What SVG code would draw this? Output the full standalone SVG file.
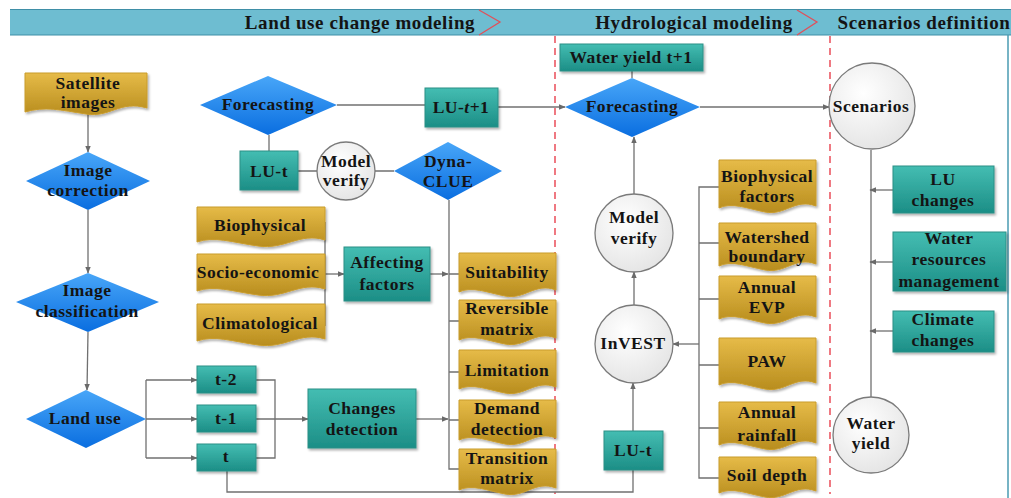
<svg xmlns="http://www.w3.org/2000/svg" width="1011" height="498" viewBox="0 0 1011 498">
<defs>
<linearGradient id="gGold" x1="0" y1="0" x2="0" y2="1"><stop offset="0" stop-color="#e6bb48"/><stop offset="1" stop-color="#b88d1e"/></linearGradient>
<linearGradient id="gTeal" x1="0" y1="0" x2="0" y2="1"><stop offset="0" stop-color="#44bdb2"/><stop offset="1" stop-color="#1c8e86"/></linearGradient>
<linearGradient id="gBlue" x1="0" y1="0" x2="0" y2="1"><stop offset="0" stop-color="#48a6f8"/><stop offset="1" stop-color="#0a6ee0"/></linearGradient>
<radialGradient id="gCirc" cx="0.4" cy="0.35" r="0.75"><stop offset="0" stop-color="#ffffff"/><stop offset="1" stop-color="#e2e2e2"/></radialGradient>
<filter id="sh" x="-10%" y="-10%" width="130%" height="140%"><feDropShadow dx="1.5" dy="2" stdDeviation="1.2" flood-color="#000" flood-opacity="0.3"/></filter>
<marker id="arr" viewBox="0 0 10 10" refX="9" refY="5" markerWidth="7" markerHeight="7" markerUnits="userSpaceOnUse" orient="auto"><path d="M0,1 L10,5 L0,9 Z" fill="#6a6a6a"/></marker>
</defs>
<style>
.t{font-family:"Liberation Serif","Times New Roman",serif;font-weight:bold;font-size:17.5px;letter-spacing:0.5px;fill:#141414;text-anchor:middle}
.h{font-family:"Liberation Serif","Times New Roman",serif;font-weight:bold;font-size:19px;letter-spacing:0.6px;fill:#141414;text-anchor:middle}
.doc{fill:url(#gGold);stroke:#c99c2c;stroke-width:1;filter:url(#sh)}
.box{fill:url(#gTeal);stroke:#2b8f86;stroke-width:1;filter:url(#sh)}
.dia{fill:url(#gBlue);stroke:none}
.cir{fill:url(#gCirc);stroke:#7a7a7a;stroke-width:1.3}
.c{fill:none;stroke:#707070;stroke-width:1.3}
.ca{fill:none;stroke:#707070;stroke-width:1.3;marker-end:url(#arr)}
.dash{stroke:#e8414d;stroke-width:1.4;stroke-dasharray:7,5;fill:none}
.chev{fill:none;stroke:#e0505a;stroke-width:1.3}
</style>
<rect x="0" y="0" width="1011" height="498" fill="#ffffff"/>
<g id="frame">
<rect x="10" y="9" width="1002" height="26" fill="#6ebdd1"/>
<line x1="10" y1="9.5" x2="1011" y2="9.5" stroke="#3f8fa7" stroke-width="1.2"/>
<line x1="10" y1="35" x2="1011" y2="35" stroke="#3f8fa7" stroke-width="1.2"/>
<line x1="1008" y1="35" x2="1008" y2="498" stroke="#4a9bb2" stroke-width="1.5"/>
<text class="h" x="360" y="28.5">Land use change modeling</text>
<polyline class="chev" points="479,10 500,22 479,35"/>
<text class="h" x="694" y="28.5">Hydrological modeling</text>
<polyline class="chev" points="797,10 817,22 797,35"/>
<text class="h" x="924" y="28.5">Scenarios definition</text>
<line class="dash" x1="555" y1="36" x2="555" y2="494"/>
<line class="dash" x1="830" y1="36" x2="830" y2="494"/>
</g>
<g id="connectors">
<path class="ca" d="M88,113 V152"/>
<path class="ca" d="M88,210 V273"/>
<path class="ca" d="M88,332 L87,390"/>
<path class="c" d="M146,380 V458"/>
<path class="ca" d="M146,380 H197"/>
<path class="ca" d="M146,419 H197"/>
<path class="ca" d="M146,458 H197"/>
<path class="c" d="M256,380 H275 V458 H256"/>
<path class="ca" d="M256,419 H308"/>
<path class="ca" d="M416,419 H448"/>
<path class="c" d="M449,200 V469 H459"/>
<path class="c" d="M449,274 H459 M449,321 H459 M449,372 H459 M449,420 H459"/>
<path class="c" d="M325,222 V326"/>
<path class="ca" d="M325,274 H344"/>
<path class="ca" d="M430,274 H448"/>
<path class="c" d="M337,105 H425"/>
<path class="ca" d="M498,107 H565"/>
<path class="c" d="M269,135 V151"/>
<path class="c" d="M298,171 H317 M375,171 H394"/>
<path class="c" d="M632,71 V78"/>
<path class="ca" d="M700,107 H829"/>
<path class="ca" d="M634,195 V137"/>
<path class="ca" d="M634,305 V272"/>
<path class="ca" d="M633,431 V383"/>
<path class="c" d="M227,471 V492 H633 V470"/>
<path class="c" d="M719,187 H699 V478 H719"/>
<path class="c" d="M699,243 H719 M699,299 H719 M699,365 H719 M699,428 H719"/>
<path class="ca" d="M699,344 H673"/>
<path class="c" d="M871,150 V397"/>
<path class="ca" d="M893,190 H870"/>
<path class="ca" d="M893,262 H870"/>
<path class="ca" d="M893,331 H870"/>
</g>
<g id="satellite"><path class="doc" d="M25,73 H147 V108 C120,100 110,118 86,114 C60,110 45,106 25,112 Z"/><text class="t" x="88" y="89">Satellite</text><text class="t" x="88" y="108">images</text></g>
<g id="img-correction"><polygon class="dia" points="88,152 150,181 88,210 26,181"/><text class="t" x="88" y="176">Image</text><text class="t" x="88" y="196">correction</text></g>
<g id="img-classification"><polygon class="dia" points="88,273 159,302 88,332 16,302"/><text class="t" x="87" y="296">Image</text><text class="t" x="87" y="317">classification</text></g>
<g id="land-use"><polygon class="dia" points="86,390 146,419 86,448 26,419"/><text class="t" x="85" y="424">Land use</text></g>
<g id="t-2"><rect class="box" x="197" y="366" width="59" height="27"/><text class="t" x="226" y="385">t-2</text></g>
<g id="t-1"><rect class="box" x="197" y="405" width="59" height="27"/><text class="t" x="226" y="424">t-1</text></g>
<g id="t"><rect class="box" x="197" y="444" width="59" height="27"/><text class="t" x="226" y="462">t</text></g>
<g id="changes-detection"><rect class="box" x="308" y="389" width="108" height="59"/><text class="t" x="362" y="414">Changes</text><text class="t" x="362" y="435">detection</text></g>
<g id="biophysical"><path class="doc" d="M197,207 H325 V240 C300,232 285,250 258,246 C230,242 215,236 197,242 Z"/><text class="t" x="260" y="231">Biophysical</text></g>
<g id="socio-economic"><path class="doc" d="M197,254 H325 V289 C300,281 285,299 258,295 C230,291 215,285 197,291 Z"/><text class="t" x="258" y="278">Socio-economic</text></g>
<g id="climatological"><path class="doc" d="M197,304 H325 V339 C300,331 285,349 258,345 C230,341 215,335 197,341 Z"/><text class="t" x="260" y="329">Climatological</text></g>
<g id="affecting-factors"><rect class="box" x="344" y="247" width="86" height="54"/><text class="t" x="387" y="268">Affecting</text><text class="t" x="387" y="290">factors</text></g>
<g id="suitability"><path class="doc" d="M459,253 H556 V290 C535,282 525,300 505,296 C485,292 472,286 459,292 Z"/><text class="t" x="507" y="278">Suitability</text></g>
<g id="reversible"><path class="doc" d="M459,300 H556 V338 C535,330 525,348 505,344 C485,340 472,334 459,340 Z"/><text class="t" x="507" y="314">Reversible</text><text class="t" x="507" y="335">matrix</text></g>
<g id="limitation"><path class="doc" d="M459,350 H556 V387 C535,379 525,397 505,393 C485,389 472,383 459,389 Z"/><text class="t" x="507" y="376">Limitation</text></g>
<g id="demand"><path class="doc" d="M459,400 H556 V438 C535,430 525,448 505,444 C485,440 472,434 459,440 Z"/><text class="t" x="507" y="414">Demand</text><text class="t" x="507" y="435">detection</text></g>
<g id="transition"><path class="doc" d="M459,449 H556 V488 C535,480 525,498 505,494 C485,490 472,484 459,490 Z"/><text class="t" x="507" y="464">Transition</text><text class="t" x="507" y="484">matrix</text></g>
<g id="forecasting-lu"><polygon class="dia" points="268,76 337,105 268,135 200,105"/><text class="t" x="268" y="110">Forecasting</text></g>
<g id="lu-t1"><rect class="box" x="425" y="88" width="73" height="39"/><text class="t" x="461" y="113">LU-<tspan font-style="italic">t</tspan>+1</text></g>
<g id="lu-t"><rect class="box" x="240" y="151" width="58" height="39"/><text class="t" x="269" y="177">LU-t</text></g>
<g id="model-verify-lu"><circle class="cir" cx="346" cy="171" r="29"/><text class="t" x="346" y="167" font-size="15" letter-spacing="0.3">Model</text><text class="t" x="346" y="186" font-size="15" letter-spacing="0.3">verify</text></g>
<g id="dyna-clue"><polygon class="dia" points="448,142 502,171 448,200 394,171"/><text class="t" x="448" y="167">Dyna-</text><text class="t" x="448" y="187">CLUE</text></g>
<g id="water-yield-t1"><rect class="box" x="560" y="44" width="143" height="27"/><text class="t" x="631" y="63">Water yield t+1</text></g>
<g id="forecasting-hyd"><polygon class="dia" points="632,78 700,107 632,137 565,107"/><text class="t" x="632" y="112">Forecasting</text></g>
<g id="scenarios"><circle class="cir" cx="872" cy="106" r="43"/><text class="t" x="871" y="112">Scenarios</text></g>
<g id="model-verify-hyd"><circle class="cir" cx="634" cy="233" r="39"/><text class="t" x="634" y="223">Model</text><text class="t" x="634" y="244">verify</text></g>
<g id="invest"><circle class="cir" cx="634" cy="344" r="39"/><text class="t" x="633" y="349">InVEST</text></g>
<g id="lu-t-hyd"><rect class="box" x="604" y="431" width="59" height="39"/><text class="t" x="633" y="456">LU-t</text></g>
<g id="biophysical-factors"><path class="doc" d="M719,160 H816 V206 C795,198 785,216 765,212 C745,208 732,202 719,208 Z"/><text class="t" x="767" y="182">Biophysical</text><text class="t" x="767" y="202">factors</text></g>
<g id="watershed"><path class="doc" d="M719,223 H816 V264 C795,256 785,274 765,270 C745,266 732,260 719,266 Z"/><text class="t" x="767" y="243">Watershed</text><text class="t" x="767" y="262">boundary</text></g>
<g id="annual-evp"><path class="doc" d="M719,276 H816 V317 C795,309 785,327 765,323 C745,319 732,313 719,319 Z"/><text class="t" x="767" y="293">Annual</text><text class="t" x="767" y="313">EVP</text></g>
<g id="paw"><path class="doc" d="M719,338 H816 V383 C795,375 785,393 765,389 C745,385 732,379 719,385 Z"/><text class="t" x="767" y="367">PAW</text></g>
<g id="annual-rainfall"><path class="doc" d="M719,402 H816 V443 C795,435 785,453 765,449 C745,445 732,439 719,445 Z"/><text class="t" x="767" y="418">Annual</text><text class="t" x="767" y="441">rainfall</text></g>
<g id="soil-depth"><path class="doc" d="M719,457 H816 V491 C795,483 785,501 765,497 C745,493 732,487 719,493 Z"/><text class="t" x="767" y="481">Soil depth</text></g>
<g id="lu-changes"><rect class="box" x="893" y="166" width="101" height="47"/><text class="t" x="943" y="185">LU</text><text class="t" x="943" y="206">changes</text></g>
<g id="water-resources"><rect class="box" x="893" y="232" width="113" height="59"/><text class="t" x="949" y="244">Water</text><text class="t" x="949" y="265">resources</text><text class="t" x="949" y="287">management</text></g>
<g id="climate-changes"><rect class="box" x="893" y="311" width="101" height="41"/><text class="t" x="943" y="325">Climate</text><text class="t" x="943" y="346">changes</text></g>
<g id="water-yield"><circle class="cir" cx="871" cy="435" r="38"/><text class="t" x="871" y="429">Water</text><text class="t" x="871" y="449">yield</text></g>
</svg>
